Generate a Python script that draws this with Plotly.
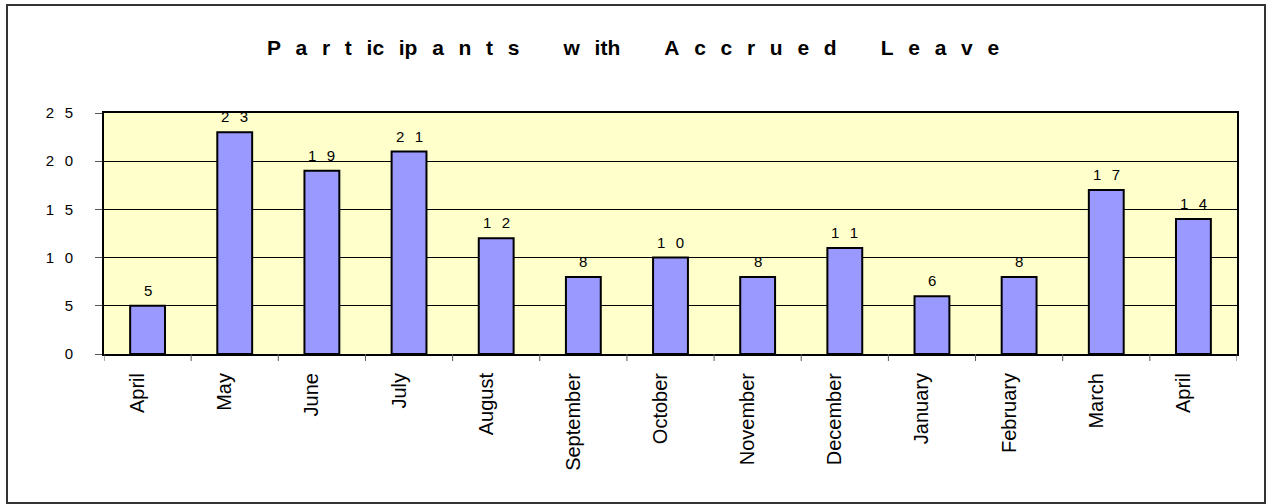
import plotly.graph_objects as go

months = ["April", "May", "June", "July", "August", "September", "October",
          "November", "December", "January", "February", "March", "April"]
values = [5, 23, 19, 21, 12, 8, 10, 8, 11, 6, 8, 17, 14]
y_ticks = [0, 5, 10, 15, 20, 25]
# title glyph groups as they appear (Excel-style letter spacing)
title_words = [["P", "a", "r", "t", "ic", "ip", "a", "n", "t", "s"],
               ["w", "ith"],
               ["A", "c", "c", "r", "u", "e", "d"],
               ["L", "e", "a", "v", "e"]]

GAP = "\u2002\u2009"          # letter gap
WGAP = GAP * 3                # word gap
DSP = "\u2002\u2009"          # digit gap


def spaced(v):
    return DSP.join(str(v))


x_idx = list(range(len(months)))

fig = go.Figure(go.Bar(
    x=x_idx, y=values,
    marker=dict(color="#9999FF", line=dict(color="black", width=2)),
    width=0.4,
    hoverinfo="skip",
))

for xi, v in zip(x_idx, values):
    fig.add_annotation(x=xi, y=v, xref="x", yref="y", text=spaced(v),
                       showarrow=False, yanchor="bottom", yshift=5,
                       font=dict(family="Liberation Sans, Arial", size=15,
                                 color="black"))

W, H = 1267, 504
L, R, T, B = 104, 1237, 113, 354
pw, ph = R - L, B - T


def px(x):
    return (x - L) / pw


def py(y):
    return (B - y) / ph


title_str = WGAP.join(GAP.join(w) for w in title_words)

fig.update_layout(
    width=W, height=H,
    margin=dict(l=L, r=W - R, t=T, b=H - B, pad=0),
    paper_bgcolor="white",
    plot_bgcolor="#FFFFCC",
    showlegend=False,
    font=dict(family="Liberation Sans, Arial", size=14, color="black"),
    title=dict(
        text="<b>" + title_str + "</b>",
        x=633 / W, xanchor="center", xref="container",
        y=1 - 48 / H, yanchor="middle",
        font=dict(family="Liberation Sans, Arial", size=21, color="black"),
    ),
    xaxis=dict(
        tickmode="array", tickvals=x_idx, ticktext=months,
        tickangle=-90, range=[-0.5, len(months) - 0.5],
        showgrid=False, showline=True, linecolor="black", linewidth=2,
        mirror=True, ticks="", zeroline=False,
        tickfont=dict(size=20), ticklabelstandoff=9, ticklabelshift=-10,
    ),
    yaxis=dict(
        range=[0, 25], tickmode="array", tickvals=y_ticks,
        ticktext=[spaced(v) for v in y_ticks],
        showgrid=True, gridcolor="black", gridwidth=1,
        showline=True, linecolor="black", linewidth=2, mirror=True,
        ticks="outside", ticklen=7, tickcolor="#555555", zeroline=False,
        tickfont=dict(size=15), ticklabelstandoff=19,
    ),
    bargap=0.6,
)

# category boundary tick marks below x-axis
for i in range(len(months) + 1):
    fig.add_shape(type="line", xref="x", yref="paper",
                  x0=i - 0.5, x1=i - 0.5, y0=0, y1=-7 / ph,
                  line=dict(color="#555555", width=1))

# outer chart border
fig.add_shape(type="rect", xref="paper", yref="paper",
              x0=px(7), x1=px(1265), y0=py(5), y1=py(503),
              line=dict(color="#333333", width=2), layer="below")

fig.write_html("out.html",
               config={"displayModeBar": False},
               post_script="document.body.style.margin='0';"
                           "document.body.style.overflow='hidden';")
